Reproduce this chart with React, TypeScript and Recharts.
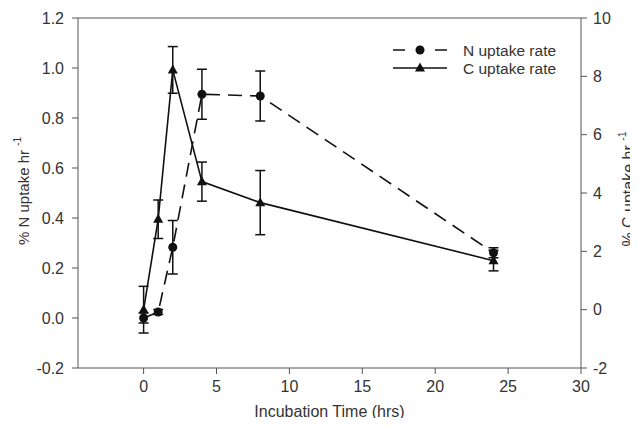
import React from 'react';
import { LineChart, Line, XAxis, YAxis, ErrorBar, ReferenceLine, Legend } from 'recharts';

const times = [0, 1, 2, 4, 8, 24];
const nRate = [0.0, 0.024, 0.283, 0.895, 0.888, 0.261];
const nErr = [0.02, 0.01, 0.107, 0.1, 0.1, 0.02];
const cRate = [0.0, 3.1, 8.22, 4.39, 3.67, 1.68];
const cErr = [0.8, 0.66, 0.8, 0.67, 1.1, 0.35];

const xTicks = [0, 5, 10, 15, 20, 25, 30];
const leftTicks = [-0.2, 0, 0.2, 0.4, 0.6, 0.8, 1.0, 1.2];
const rightTicks = [-2, 0, 2, 4, 6, 8, 10];

const data = times.map((t, i) => ({ t, n: nRate[i], nErr: nErr[i], c: cRate[i], cErr: cErr[i] }));

const INK = '#111';
const AXIS = '#555';
const TEXT = '#333';

const TriangleDot = (props: any) => {
  const { cx, cy, index } = props;
  if (cx == null || cy == null) return null;
  return (
    <polygon
      key={`tri-${index}`}
      points={`${cx},${cy - 5.5} ${cx - 5},${cy + 3.5} ${cx + 5},${cy + 3.5}`}
      fill={INK}
    />
  );
};

const LeftLabel = (props: any) => {
  const vb = props.viewBox || { x: 0, y: 10, width: 70, height: 350 };
  const cx = vb.x + 15;
  const cy = vb.y + vb.height / 2 - 2;
  return (
    <text x={cx} y={cy} transform={`rotate(-90 ${cx} ${cy})`} textAnchor="middle" dominantBaseline="central" fontSize={15} fill={TEXT}>
      % N uptake hr <tspan fontSize={10} dy={-6}>-1</tspan>
    </text>
  );
};

const RightLabel = (props: any) => {
  const vb = props.viewBox || { x: 573, y: 10, width: 57, height: 350 };
  const cx = vb.x + 47;
  const cy = vb.y + vb.height / 2 - 4;
  return (
    <text x={cx} y={cy} transform={`rotate(-90 ${cx} ${cy})`} textAnchor="middle" dominantBaseline="central" fontSize={16} fill={TEXT}>
      % C uptake hr <tspan fontSize={10.5} dy={-6}>-1</tspan>
    </text>
  );
};

const BottomLabel = (props: any) => {
  const vb = props.viewBox || { x: 70, y: 360, width: 503, height: 58 };
  const cx = vb.x + vb.width / 2;
  const cy = vb.y + 43;
  return (
    <text x={cx} y={cy} textAnchor="middle" dominantBaseline="central" fontSize={16} fill={TEXT}>
      Incubation Time (hrs)
    </text>
  );
};

const LegendContent = () => (
  <svg width={190} height={40} style={{ display: 'block', overflow: 'visible' }}>
    <line x1={0} x2={54} y1={10} y2={10} stroke={INK} strokeWidth={1.6} strokeDasharray="12 30" />
    <circle cx={27} cy={10} r={4.5} fill={INK} />
    <text x={70} y={10} dominantBaseline="central" fontSize={15.5} fill={TEXT}>N uptake rate</text>
    <line x1={0} x2={54} y1={28} y2={28} stroke={INK} strokeWidth={1.6} />
    <polygon points={`27,22.5 22,31.5 32,31.5`} fill={INK} />
    <text x={70} y={28} dominantBaseline="central" fontSize={15.5} fill={TEXT}>C uptake rate</text>
  </svg>
);

export default function App() {
  return (
    <div style={{ marginRight: -8, marginBottom: -8 }}>
      <LineChart
        width={630}
        height={418}
        data={data}
        margin={{ top: 10, right: 0, bottom: 0, left: 0 }}
        style={{ fontFamily: '"Liberation Sans", Arial, sans-serif' }}
      >
        <XAxis
          dataKey="t"
          type="number"
          domain={[-4.5, 30]}
          ticks={xTicks}
          allowDataOverflow
          height={58}
          stroke={AXIS}
          tickSize={6}
          tickMargin={7}
          tick={{ fill: TEXT, fontSize: 16 }}
          label={<BottomLabel />}
        />
        <YAxis
          yAxisId="left"
          orientation="left"
          type="number"
          domain={[-0.2, 1.2]}
          ticks={leftTicks}
          allowDataOverflow
          width={70}
          stroke={AXIS}
          tickSize={6}
          tickMargin={8}
          tick={{ fill: TEXT, fontSize: 16 }}
          tickFormatter={(v: number) => v.toFixed(1)}
          label={<LeftLabel />}
        />
        <YAxis
          yAxisId="right"
          orientation="right"
          type="number"
          domain={[-2, 10]}
          ticks={rightTicks}
          allowDataOverflow
          width={57}
          stroke={AXIS}
          tickSize={6}
          tickMargin={6}
          tick={{ fill: TEXT, fontSize: 16 }}
          label={<RightLabel />}
        />
        <ReferenceLine yAxisId="left" y={1.2} stroke={AXIS} strokeWidth={1} />
        <Line
          yAxisId="right"
          dataKey="c"
          stroke={INK}
          strokeWidth={1.6}
          dot={<TriangleDot />}
          activeDot={false}
          isAnimationActive={false}
        >
          <ErrorBar dataKey="cErr" width={5} stroke={INK} strokeWidth={1.5} direction="y" />
        </Line>
        <Line
          yAxisId="left"
          dataKey="n"
          stroke={INK}
          strokeWidth={1.6}
          strokeDasharray="14 8"
          dot={{ r: 4.5, fill: INK, stroke: INK, strokeWidth: 0 }}
          activeDot={false}
          isAnimationActive={false}
        >
          <ErrorBar dataKey="nErr" width={5} stroke={INK} strokeWidth={1.5} direction="y" />
        </Line>
        <Legend
          layout="horizontal"
          verticalAlign="middle"
          align="center"
          content={<LegendContent />}
          wrapperStyle={{ left: 385, top: 32, width: 190, height: 40 }}
        />
      </LineChart>
    </div>
  );
}
